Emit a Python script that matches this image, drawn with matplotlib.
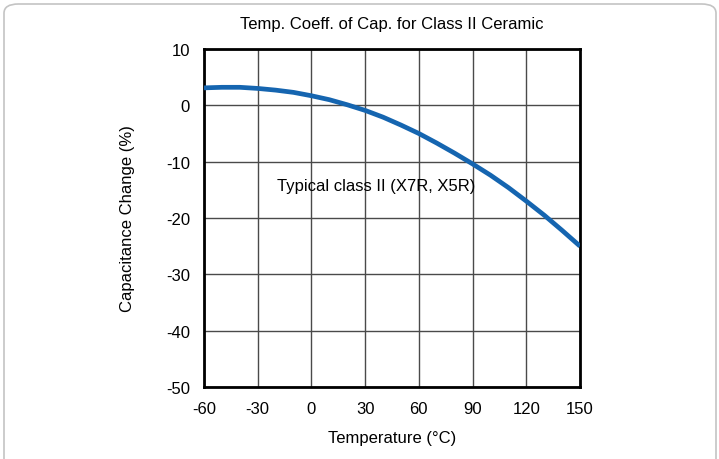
import matplotlib.pyplot as plt
from matplotlib.patches import FancyBboxPatch

plt.rcParams['font.family'] = ['Liberation Sans', 'DejaVu Sans']
plt.rcParams['axes.unicode_minus'] = False

temps = [-60, -50, -40, -30, -20, -10, 0, 10, 20, 30, 40, 50, 60, 70, 80, 90,
         100, 110, 120, 130, 140, 150]
cap_change = [3.1, 3.2, 3.2, 3.0, 2.7, 2.3, 1.7, 1.0, 0.1, -0.9, -2.1, -3.5,
              -5.0, -6.7, -8.5, -10.4, -12.4, -14.6, -17.0, -19.5, -22.2, -25.0]
x_ticks = [-60, -30, 0, 30, 60, 90, 120, 150]
y_ticks = [10, 0, -10, -20, -30, -40, -50]

fig = plt.figure(figsize=(7.19, 4.60), dpi=100)
fig.patch.set_facecolor('white')

# rounded frame around the figure
frame = FancyBboxPatch((4 / 719, -0.05), 712 / 719, 1.05 - 5 / 460,
                       boxstyle='round,pad=0,rounding_size=0.02',
                       transform=fig.transFigure, facecolor='none',
                       edgecolor='#c4c4c4', linewidth=1.2, zorder=-1)
fig.patches.append(frame)

ax = fig.add_axes([204 / 719, 1 - 388 / 460, 376 / 719, 338 / 460])
ax.set_facecolor('none')
ax.plot(temps, cap_change, color='#1565b0', linewidth=3.4, solid_capstyle='butt', zorder=3)

ax.set_xlim(-60, 150)
ax.set_ylim(-50, 10)
ax.set_xticks(x_ticks)
ax.set_yticks(y_ticks)
ax.tick_params(length=0, labelsize=12)
ax.tick_params(axis='x', pad=10)
ax.tick_params(axis='y', pad=10)
ax.grid(True, color='#4a4a4a', linewidth=1.0)
for s in ax.spines.values():
    s.set_linewidth(2)
    s.set_color('black')

ax.set_title('Temp. Coeff. of Cap. for Class II Ceramic', fontsize=12, pad=15)
ax.set_xlabel('Temperature (°C)', fontsize=12, labelpad=10)
ax.set_ylabel('Capacitance Change (%)', fontsize=12, labelpad=22)
ax.text(-19.5, -14.2, 'Typical class II (X7R, X5R)', fontsize=12, va='center', ha='left')

fig.savefig('out.png', dpi=100)
